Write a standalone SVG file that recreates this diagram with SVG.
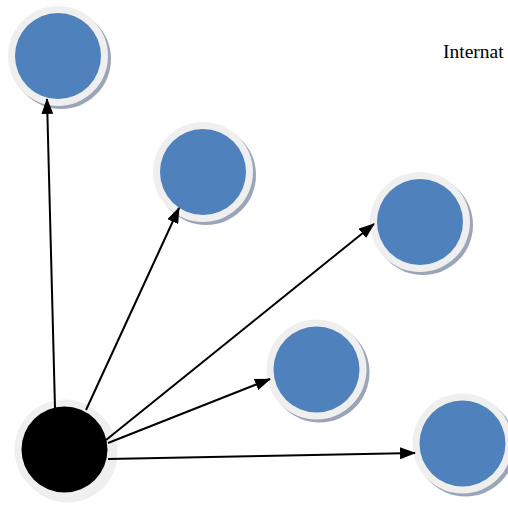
<svg xmlns="http://www.w3.org/2000/svg" width="508" height="510" viewBox="0 0 508 510">
<style>
.sh{fill:#9aa6b8}
.ring{fill:#efefef}
.blue{fill:#4f81bd}
.blk{fill:#000}
.edge{stroke:#000;stroke-width:2;fill:none;marker-end:url(#ah)}
.lbl{font-family:"Liberation Serif",serif;font-size:19.5px;fill:#000}
</style>
<defs>
<marker id="ah" viewBox="0 0 16 12" refX="15" refY="6" markerWidth="16" markerHeight="12" markerUnits="userSpaceOnUse" orient="auto">
<path d="M0,0 L16,6 L0,12 z" fill="#000"/>
</marker>
</defs>
<rect width="508" height="510" fill="#fff"/>
<g id="n1">
<circle class="sh" cx="61" cy="59" r="50"/>
<circle class="ring" cx="58" cy="56" r="50"/>
<circle class="blue" cx="58" cy="56" r="43"/>
</g>
<g id="n2">
<circle class="sh" cx="206" cy="175" r="50"/>
<circle class="ring" cx="203" cy="172" r="50"/>
<circle class="blue" cx="203" cy="172" r="43"/>
</g>
<g id="n3">
<circle class="sh" cx="423" cy="225" r="50"/>
<circle class="ring" cx="420" cy="222" r="50"/>
<circle class="blue" cx="420" cy="222" r="43"/>
</g>
<g id="n4">
<circle class="sh" cx="319.5" cy="372.5" r="50"/>
<circle class="ring" cx="316.5" cy="369.5" r="50"/>
<circle class="blue" cx="316.5" cy="369.5" r="43"/>
</g>
<g id="n5">
<circle class="sh" cx="465.5" cy="446.5" r="50"/>
<circle class="ring" cx="462.5" cy="443.5" r="50"/>
<circle class="blue" cx="462.5" cy="443.5" r="43"/>
</g>
<g id="n0">
<circle class="ring" cx="67.5" cy="452.5" r="50"/>
<circle class="ring" cx="64.5" cy="449.5" r="50"/>
<circle class="blk" cx="64.5" cy="449.5" r="43"/>
</g>
<g id="connectors">
<line class="edge" x1="55" y1="408" x2="47" y2="99"/>
<line class="edge" x1="86" y1="410" x2="179" y2="208"/>
<line class="edge" x1="106" y1="440" x2="374" y2="224"/>
<line class="edge" x1="108" y1="443" x2="270" y2="379"/>
<line class="edge" x1="108" y1="459" x2="415" y2="453"/>
</g>
<text class="lbl" x="443" y="58">Internat</text>
</svg>
